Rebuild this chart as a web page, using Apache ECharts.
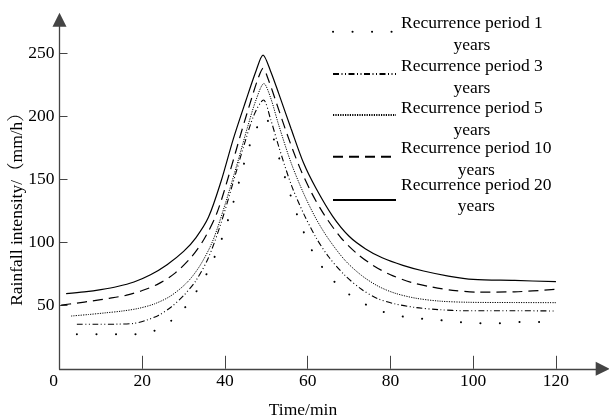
<!DOCTYPE html>
<html><head><meta charset="utf-8">
<script src="https://cdn.jsdelivr.net/npm/echarts@6/dist/echarts.min.js"></script>
<style>html,body{margin:0;padding:0;background:#fff}#c{width:609px;height:419px}</style>
</head><body><div id="c"></div>
<script>
// ---- data ----
const seriesNames = ['Recurrence period 1', 'Recurrence period 3', 'Recurrence period 5', 'Recurrence period 10', 'Recurrence period 20'];
const legendUnit = 'years';

const t1 = [4.2, 9, 14, 18.5, 23, 27, 30.5, 33.2, 36, 39, 41.5, 43.4, 45, 47, 49.6, 51.5, 53, 55.6, 58, 61, 65, 70, 74, 77.4, 82, 86.5, 91.3, 96, 100.7, 105.3, 110, 120];
const v1 = [27.3, 27.3, 27.3, 27.3, 30.2, 38.1, 49.2, 61.9, 78, 101, 126, 148, 167, 186, 200, 185, 168, 140, 117, 94, 74, 59, 51, 46, 42, 40, 38.7, 37.3, 36, 36, 37, 37];

const t3 = [4.2, 9, 14, 18, 21, 24, 27, 30, 33, 36, 39, 42, 44.5, 47, 49.3, 51, 53, 56, 59, 62, 65, 69, 73, 77, 81, 86, 92, 98, 110, 120];
const v3 = [35.3, 35.3, 35.4, 36, 38.5, 42.5, 49, 58, 70, 88, 115, 148, 176, 201, 213, 198, 176, 146, 123, 104, 89, 74, 63, 55.5, 51.5, 48.6, 46.8, 46, 46, 45.8];

const t5 = [2.8, 7, 11, 15, 19, 23, 27, 31, 34, 37, 40, 43, 45.5, 47.5, 49.4, 51, 53, 56, 59, 62, 65, 69, 73, 77, 81, 86, 92, 99, 110, 120];
const v5 = [41.8, 43, 44.3, 45.7, 47.8, 51.5, 58, 69, 82, 101, 130, 163, 192, 213, 226, 215, 193, 163, 139, 119, 103, 86, 74, 65.5, 60, 56, 53.6, 52.7, 52.5, 52.4];

const t10 = [0.4, 4, 8, 12, 16, 20, 24, 28, 32, 35, 38, 41, 44, 46.5, 48, 49.2, 50.5, 52.5, 55, 58, 61, 64, 68, 72, 76, 80, 85, 90, 95, 101, 110, 120];
const v10 = [50.5, 52, 53.8, 55.8, 58.2, 62, 67.5, 76, 89, 103, 123, 154, 188, 215, 230, 238, 229, 210, 186, 160, 139, 122, 104, 91, 81.5, 74.5, 68.5, 64.8, 62.2, 60.8, 61, 63];

const t20 = [1.6, 6, 10, 14, 18, 22, 26, 30, 33, 36, 39, 42, 45, 47.5, 49.2, 51, 53, 56, 59, 62, 66, 70, 74, 78, 83, 88, 94, 100, 110, 120];
const v20 = [59.5, 61, 62.8, 65.2, 68.8, 74.5, 82.5, 93, 104, 120, 148, 182, 212, 236, 248.6, 236, 218, 190, 163, 143, 121, 105, 95, 88, 82, 77.5, 73.5, 70.8, 70, 69];

const xTickValues = [0, 20, 40, 60, 80, 100, 120];
const xTickMarks = [20, 40, 60, 80, 100, 120];
const yTickValues = [50, 100, 150, 200, 250];
const xAxisTitle = 'Time/min';
const yAxisTitle = 'Rainfall intensity/（mm/h）';

// ---- chart ----
const FONT = '"Times New Roman", "Liberation Serif", "Noto Serif CJK SC", "Noto Sans CJK SC", serif';
const FS = 17.5;
const zip = (t, v) => t.map((x, i) => [x, v[i]]);
const times = [t1, t3, t5, t10, t20];
const values = [v1, v3, v5, v10, v20];
const lineStyles = [
  { color: '#000', width: 2, type: [0.1, 19.4], cap: 'round' },
  { color: '#000', width: 1.1, type: [6, 2.5, 1, 2.5, 1, 2.5] },
  { color: '#000', width: 1, type: [1.2, 1.2] },
  { color: '#000', width: 1.2, type: [10, 6] },
  { color: '#000', width: 1.2, type: 'solid' }
];

const series = seriesNames.map((name, i) => ({
  name, type: 'line', data: zip(times[i], values[i]),
  symbol: 'none', smooth: 0.3,
  lineStyle: lineStyles[i], itemStyle: { color: '#000' },
  emphasis: { disabled: true }, silent: true, animation: false
}));

// legend layout: [top, text padding top, text padding bottom]
const legendLayout = [[7.5, 5, 0], [48.8, 7, 0], [89.1, 8.4, 0], [132.2, 5.6, 0], [174.2, 0, 8.2]];
const txt = { fontFamily: FONT, fontSize: FS, color: '#000', lineHeight: 21.7 };
const legends = seriesNames.map((name, i) => ({
  data: [name], left: 332, top: legendLayout[i][0], padding: 0, orient: 'vertical',
  itemWidth: 63, itemHeight: 14, selectedMode: false,
  itemStyle: { color: 'rgba(0,0,0,0)', borderWidth: 0, opacity: 0 },
  formatter: n => '{a|' + n + '}\n{b|' + legendUnit + '}',
  textStyle: Object.assign({}, txt, {
    padding: [legendLayout[i][1], 0, legendLayout[i][2], 0],
    rich: { a: Object.assign({}, txt), b: Object.assign({ align: 'center' }, txt) }
  })
}));

const chart = echarts.init(document.getElementById('c'), null, { renderer: 'canvas' });
chart.setOption({
  animation: false,
  backgroundColor: '#fff',
  grid: { left: 59.5, top: 19.7, width: 543.2, height: 349.1, containLabel: false },
  legend: legends,
  xAxis: {
    type: 'value', min: 0, max: 131.3,
    axisLine: { lineStyle: { color: '#444', width: 1.3 }, symbol: ['none', 'triangle'], symbolSize: [14, 14] },
    axisTick: { inside: true, length: 13, lineStyle: { color: '#444', width: 1 }, customValues: xTickMarks },
    axisLabel: {
      customValues: xTickValues, margin: 4, fontFamily: FONT, fontSize: FS, color: '#000',
      formatter: v => v === 0 ? '{z|0}' : String(v),
      rich: { z: { fontFamily: FONT, fontSize: FS, color: '#000', padding: [0, 12, 0, 0] } }
    },
    splitLine: { show: false }
  },
  yAxis: {
    type: 'value', min: 0, max: 276.6,
    axisLine: { lineStyle: { color: '#444', width: 1.3 }, symbol: ['none', 'triangle'], symbolSize: [14, 14] },
    axisTick: { inside: true, length: 8, lineStyle: { color: '#444', width: 1 }, customValues: yTickValues },
    axisLabel: { customValues: yTickValues, margin: 5, fontFamily: FONT, fontSize: FS, color: '#000' },
    splitLine: { show: false }
  },
  graphic: [
    { type: 'text', x: 303, y: 410, style: { text: xAxisTitle, fontFamily: FONT, fontSize: FS, fill: '#000', align: 'center', verticalAlign: 'middle' } },
    { type: 'text', x: 17, y: 205, rotation: Math.PI / 2, style: { text: yAxisTitle, fontFamily: FONT, fontSize: FS, fill: '#000', align: 'center', verticalAlign: 'middle' } }
  ],
  series
});
</script></body></html>
